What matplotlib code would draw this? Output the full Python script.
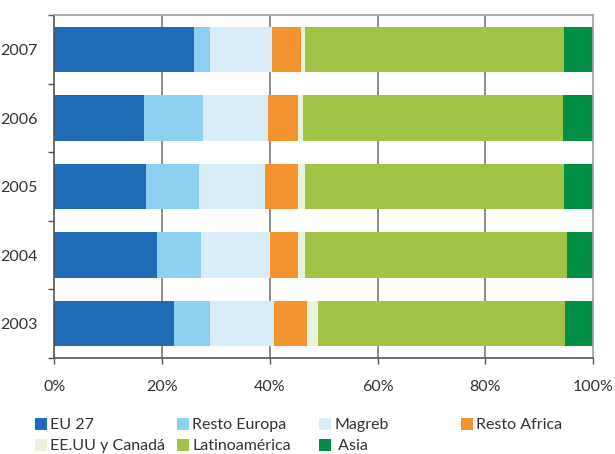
import matplotlib
matplotlib.use("Agg")
import matplotlib.pyplot as plt
import numpy as np
from matplotlib.patches import Patch

plt.rcParams['font.family'] = ['Lato', 'DejaVu Sans']

years = ['2003', '2004', '2005', '2006', '2007']
series = ['EU 27', 'Resto Europa', 'Magreb', 'Resto Africa',
          'EE.UU y Canadá', 'Latinoamérica', 'Asia']
eu27 = [22.2, 19.1, 17.0, 16.7, 25.9]
resto_europa = [6.7, 8.1, 9.9, 10.9, 3.0]
magreb = [11.8, 12.8, 12.2, 12.0, 11.5]
resto_africa = [6.2, 5.2, 6.1, 5.6, 5.3]
eeuu_canada = [2.0, 1.3, 1.3, 0.9, 0.8]
latinoamerica = [45.9, 48.7, 48.1, 48.3, 48.1]
asia = [5.2, 4.8, 5.4, 5.6, 5.4]
colors = ['#1f6bb5', '#8ecff2', '#d8edf8', '#f39430', '#ebf2dc', '#a2c446', '#008f45']
xticks = [0, 20, 40, 60, 80, 100]
xticklabels = ['0%', '20%', '40%', '60%', '80%', '100%']

data = [eu27, resto_europa, magreb, resto_africa, eeuu_canada, latinoamerica, asia]

fig = plt.figure(figsize=(6.15, 4.54), dpi=100)
ax = fig.add_axes([0.0886, 0.2119, 0.8756, 0.7544])

y = np.arange(len(years))
left = np.zeros(len(years))
for vals, c, name in zip(data, colors, series):
    v = np.array(vals)
    ax.barh(y, v, left=left, height=0.67, color=c, label=name, zorder=2)
    left += v

ax.set_xlim(0, 100)
ax.set_ylim(-0.5, len(years) - 0.5)
ax.set_xticks(xticks)
ax.set_xticklabels(xticklabels)
ax.set_yticks(y)
ax.set_yticklabels(years)
ax.set_yticks(np.arange(-0.5, len(years)), minor=True)
ax.tick_params(axis='y', which='major', length=0, pad=12, labelsize=11.5, labelcolor='#333333')
ax.tick_params(axis='y', which='minor', length=4, width=1, color='#555555')
ax.tick_params(axis='x', which='major', length=4, width=1, color='#555555', pad=12,
               labelsize=11.5, labelcolor='#333333')
for g in [20, 40, 60, 80]:
    ax.axvline(g, color='#8c8c8c', lw=1.4, zorder=1)
ax.spines['left'].set_color('#555555')
ax.spines['bottom'].set_color('#555555')
ax.spines['top'].set_color('#a0a0a0')
ax.spines['right'].set_color('#a0a0a0')
for s in ax.spines.values():
    s.set_linewidth(1.2)

# legend: 4 columns, placed at uniform spacing
cols = [[0, 4], [1, 5], [2, 6], [3]]
col_x = [35, 177, 319, 461]
for ci, idxs in enumerate(cols):
    handles = [Patch(facecolor=colors[i], edgecolor='none') for i in idxs]
    labels = [series[i] if i != 6 else ' ' + series[i] for i in idxs]
    fig.legend(handles, labels, loc='upper left',
               bbox_to_anchor=(col_x[ci] / 615, 1 - 418 / 454),
               frameon=False, fontsize=11.5, handlelength=0.75, handleheight=0.75,
               handletextpad=0.2, labelspacing=0.4, borderaxespad=0,
               borderpad=0, labelcolor='#333333')

fig.savefig('out.png', dpi=100)
